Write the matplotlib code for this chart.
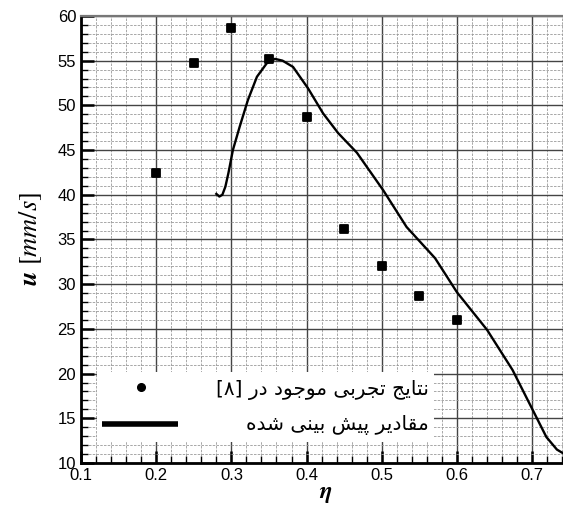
import matplotlib
matplotlib.use('Agg')
import matplotlib.pyplot as plt
from matplotlib.patches import Rectangle
from matplotlib.markers import MarkerStyle
from matplotlib.ticker import MultipleLocator, FormatStrFormatter

# experimental points (ref [8])
eta_exp = [0.20, 0.25, 0.30, 0.35, 0.40, 0.45, 0.50, 0.55, 0.60]
u_exp = [42.4, 54.7, 58.7, 55.2, 48.7, 36.2, 32.0, 28.7, 26.0]

# predicted curve
eta_pred = [0.280, 0.284, 0.288, 0.292, 0.296, 0.302, 0.311, 0.322, 0.334, 0.347,
            0.358, 0.368, 0.382, 0.402, 0.422, 0.442, 0.467, 0.502, 0.533, 0.571,
            0.600, 0.640, 0.674, 0.701, 0.719, 0.733, 0.745]
u_pred = [40.1, 39.8, 40.0, 40.9, 42.4, 45.0, 47.6, 50.6, 53.2, 54.7,
          55.2, 55.0, 54.3, 51.9, 49.1, 46.9, 44.7, 40.5, 36.4, 32.9,
          29.1, 24.9, 20.4, 15.9, 12.9, 11.5, 10.9]

label_exp = 'نتایج تجربی موجود در [۸]'
label_pred = 'مقادیر پیش بینی شده'

# minimal arabic/persian shaping: (isolated, final, initial, medial)
FORMS = {
    '\u0627': ('\uFE8D', '\uFE8E', None, None),
    '\u0628': ('\uFE8F', '\uFE90', '\uFE91', '\uFE92'),
    '\u062A': ('\uFE95', '\uFE96', '\uFE97', '\uFE98'),
    '\u062C': ('\uFE9D', '\uFE9E', '\uFE9F', '\uFEA0'),
    '\u062F': ('\uFEA9', '\uFEAA', None, None),
    '\u0631': ('\uFEAD', '\uFEAE', None, None),
    '\u0634': ('\uFEB5', '\uFEB6', '\uFEB7', '\uFEB8'),
    '\u0642': ('\uFED5', '\uFED6', '\uFED7', '\uFED8'),
    '\u0645': ('\uFEE1', '\uFEE2', '\uFEE3', '\uFEE4'),
    '\u0646': ('\uFEE5', '\uFEE6', '\uFEE7', '\uFEE8'),
    '\u0647': ('\uFEE9', '\uFEEA', '\uFEEB', '\uFEEC'),
    '\u0648': ('\uFEED', '\uFEEE', None, None),
    '\u06CC': ('\uFBFC', '\uFBFD', '\uFBFE', '\uFBFF'),
    '\u067E': ('\uFB56', '\uFB57', '\uFB58', '\uFB59'),
}
MIRROR = {'[': ']', ']': '[', '(': ')', ')': '('}


def shape_rtl(s):
    out = []
    for i, c in enumerate(s):
        if c not in FORMS:
            out.append(c)
            continue
        prev = s[i - 1] if i > 0 else None
        nxt = s[i + 1] if i < len(s) - 1 else None
        jp = prev in FORMS and FORMS[prev][2] is not None
        jn = nxt in FORMS and FORMS[c][2] is not None
        iso, fin, ini, med = FORMS[c]
        if jp and jn:
            out.append(med)
        elif jp:
            out.append(fin)
        elif jn:
            out.append(ini)
        else:
            out.append(iso)
    return ''.join(MIRROR.get(c, c) for c in reversed(out))


plt.rcParams['font.family'] = ['Liberation Sans', 'DejaVu Sans']
plt.rcParams['mathtext.fontset'] = 'stix'

fig = plt.figure(figsize=(5.63, 5.08), dpi=100)
ax = fig.add_axes([0.1439, 0.0886, 0.868, 0.88])

ax.set_xlim(0.1, 0.75)
ax.set_ylim(10, 60)
ax.xaxis.set_major_locator(MultipleLocator(0.1))
ax.xaxis.set_minor_locator(MultipleLocator(0.02))
ax.yaxis.set_major_locator(MultipleLocator(5))
ax.yaxis.set_minor_locator(MultipleLocator(1))

ax.grid(True, which='major', color='#444444', lw=1.0)
ax.grid(True, which='minor', color='#9a9a9a', lw=0.6, ls=(0, (3, 1.5)))
ax.set_axisbelow(True)

ax.tick_params(which='major', direction='in', length=9, width=1.8, labelsize=12,
               top=False, right=False)
ax.tick_params(which='minor', direction='in', length=5, width=1.0, top=False, right=False)
ax.xaxis.set_major_formatter(FormatStrFormatter('%.1f'))
ax.yaxis.set_major_formatter(FormatStrFormatter('%d'))

for side in ['left', 'bottom']:
    ax.spines[side].set_linewidth(2.0)
ax.spines['top'].set_linewidth(1.6)
ax.spines['top'].set_color('#777777')
ax.spines['right'].set_visible(False)

sq = MarkerStyle('s', joinstyle='round')
ax.plot(eta_pred, u_pred, color='black', lw=1.7, solid_joinstyle='round', zorder=3)
ax.plot(eta_exp, u_exp, ls='none', marker=sq, ms=5.6, mew=1.3, color='black', zorder=4)

# legend box
ax.add_patch(Rectangle((0.121, 12.3), 0.448, 7.9, facecolor='white', edgecolor='none', zorder=5))
ax.plot([0.18], [18.5], ls='none', marker='o', ms=5.5, color='black', zorder=6)
ax.plot([0.128, 0.229], [14.4, 14.4], color='black', lw=4, solid_capstyle='butt', zorder=6)
ax.text(0.563, 18.2, shape_rtl(label_exp), ha='right', va='center', fontsize=14.5,
        family='DejaVu Sans', zorder=7)
ax.text(0.563, 14.2, shape_rtl(label_pred), ha='right', va='center', fontsize=14.5,
        family='DejaVu Sans', zorder=7)

ax.set_xlabel(r'$\mathbfit{\eta}$', fontsize=17, labelpad=0)
ax.set_ylabel(r'$\mathbfit{u}\ \left[\mathit{mm/s}\right]$', fontsize=19, labelpad=10)

fig.savefig('out.png', dpi=100)
